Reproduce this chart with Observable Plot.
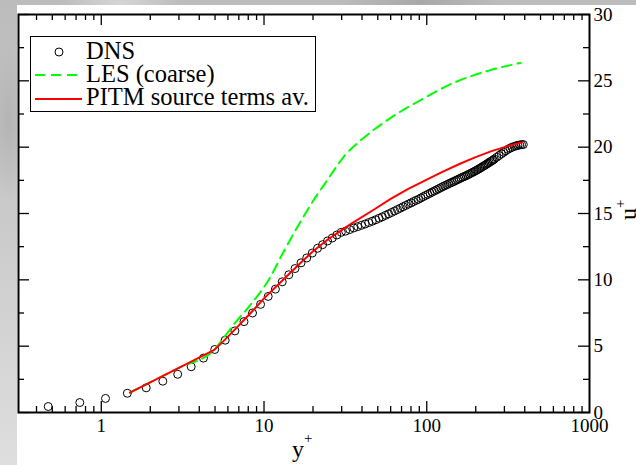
<!DOCTYPE html>
<html><head><meta charset="utf-8">
<script src="https://cdn.jsdelivr.net/npm/d3@7"></script>
<script src="https://cdn.jsdelivr.net/npm/@observablehq/plot@0.6"></script>
<style>
html,body{margin:0;padding:0;}
body{width:636px;height:465px;overflow:hidden;position:relative;
 background:
  radial-gradient(ellipse 60px 20px at 120px 3px, #d6d6d6, rgba(214,214,214,0)),
  radial-gradient(ellipse 80px 20px at 420px 2px, #a8a8a8, rgba(168,168,168,0)),
  radial-gradient(ellipse 20px 80px at 8px 120px, #b4b4b4, rgba(180,180,180,0)),
  linear-gradient(to bottom, #bcbcbc, #c8c8c8 40%, #dedede);}
#panel{position:absolute;left:17px;top:5px;width:619px;height:460px;background:#fff;}
#chart{position:absolute;left:0;top:0;}
#chart svg text, #chart svg tspan{font-family:"Liberation Serif","Tinos","Times New Roman","Nimbus Roman","DejaVu Serif" !important;}
</style></head><body><div id="panel"></div><div id="chart"></div>
<script>
// ---- data ----
const seriesNames = ["DNS", "LES (coarse)", "PITM source terms av."];
const xLabel = "y", yLabel = "u", labelSup = "+";

const dnsX = [0.472,0.738,1.062,1.446,1.888,2.389,2.949,3.568,4.245,4.98,5.773,6.623,7.532,8.499,9.524,10.61,11.75,12.94,14.2,15.51,16.88,18.3,19.79,21.32,22.91,24.56,26.27,28.03,29.84,
 31.71,33.63,35.61,37.64,39.72,41.86,44.04,46.29,48.58,50.93,53.32,55.77,58.27,60.82,63.42,66.06,68.76,71.5,74.3,77.14,80.03,82.97,85.95,88.98,92.06,95.18,98.34,101.55,104.8,108.1,111.43,114.81,118.24,121.7,125.2,128.75,132.33,135.96,139.62,143.32,147.06,150.83,154.64,158.49,162.37,166.28,170.24,174.22,178.23,182.28,186.36,190.47,194.61,198.78,202.98,207.21,211.46,215.74,220.05,224.38,228.75,233.12,237.53,241.99,246.44,250.92,255.42,259.94,
 269.04,278.21,287.45,296.75,306.11,315.52,324.98,334.48,344.02,353.58,363.16,372.77,382.38,392];
const dnsY = [0.45,0.75,1.06,1.45,1.86,2.36,2.88,3.45,4.1,4.75,5.45,6.15,6.85,7.5,8.15,8.75,9.3,9.85,10.38,10.85,11.28,11.65,12.02,12.38,12.65,12.93,13.15,13.38,13.58,
 13.67,13.79,13.91,14.01,14.11,14.21,14.32,14.42,14.53,14.64,14.75,14.86,14.97,15.08,15.19,15.3,15.4,15.51,15.61,15.71,15.8,15.9,15.99,16.07,16.17,16.27,16.36,16.44,16.53,16.62,16.7,16.78,16.86,16.94,17.02,17.09,17.16,17.23,17.3,17.36,17.42,17.49,17.55,17.62,17.68,17.74,17.79,17.85,17.91,17.97,18.03,18.09,18.15,18.21,18.27,18.33,18.4,18.46,18.53,18.59,18.65,18.72,18.78,18.85,18.91,18.97,19.03,19.1,
 19.24,19.37,19.5,19.61,19.73,19.84,19.92,19.99,20.05,20.1,20.14,20.17,20.19,20.2];

const lesX = [1.5,3,4.95,5.43,6.56,8.33,10.6,13.3,16.9,20.4,23.5,27.2,31.3,38,48,60.7,86.6,149,240,377];
const lesY = [1.5,3.37,4.72,5.35,6.67,8.17,9.93,12.2,14.46,16.1,17.2,18.35,19.36,20.36,21.37,22.25,23.38,24.89,25.77,26.35];

const pitmX = [1.5,3,4.95,5.5,6.5,7.5,8.5,10,12,14,17,20,25,30,35,48,60,77,100,123,160,198,250,318,385];
const pitmY = [1.5,3.37,4.72,5.25,6.15,6.95,7.65,8.6,9.55,10.35,11.35,12.15,13.1,13.75,14.3,15.34,16.1,16.85,17.55,18.1,18.75,19.23,19.7,20.1,20.36];

const xMajor = [1, 10, 100, 1000];
const xMinor = [0.4,0.5,0.6,0.7,0.8,0.9,2,3,4,5,6,7,8,9,20,30,40,50,60,70,80,90,200,300,400,500,600,700,800,900];
const yMajor = [0, 5, 10, 15, 20, 25, 30];
const yMinor = [2.5, 7.5, 12.5, 17.5, 22.5, 27.5];

// ---- build ----
const zip = (xs, ys) => xs.slice(0, Math.min(xs.length, ys.length)).map((x, i) => ({x, y: ys[i]}));
const dns = zip(dnsX, dnsY), les = zip(lesX, lesY), pitm = zip(pitmX, pitmY);

const W = 636, H = 465, mL = 18, mT = 14, mR = 47, mB = 53;
const fw = W - mL - mR, fh = H - mT - mB;
const bigT = 11, smallT = 6;
const tickStyle = {stroke: "#000", strokeWidth: 1.3};
const font = "Liberation Serif, Tinos, Times New Roman, DejaVu Serif";

const plot = Plot.plot({
  width: W, height: H,
  marginLeft: mL, marginRight: mR, marginTop: mT, marginBottom: mB,
  style: {background: "transparent", fontFamily: font, color: "#000", overflow: "visible"},
  x: {type: "log", domain: [0.31, 1000]},
  y: {domain: [0, 30]},
  marks: [
    Plot.dot(dns, {x: "x", y: "y", r: 4, stroke: "#000", strokeWidth: 1, fill: "none"}),
    Plot.line(les, {x: "x", y: "y", stroke: "#00ff00", strokeWidth: 2, strokeDasharray: "10,6", curve: "monotone-x"}),
    Plot.line(pitm, {x: "x", y: "y", stroke: "#ff0000", strokeWidth: 2, curve: "linear"}),
    // inward ticks: bottom & top
    Plot.ruleX(xMajor.slice(0, 3), {x: d => d, insetTop: fh - bigT, ...tickStyle}),
    Plot.ruleX(xMinor, {x: d => d, insetTop: fh - smallT, ...tickStyle}),
    Plot.ruleX(xMajor.slice(0, 3), {x: d => d, insetBottom: fh - bigT, ...tickStyle}),
    Plot.ruleX(xMinor, {x: d => d, insetBottom: fh - smallT, ...tickStyle}),
    // inward ticks: left & right
    Plot.ruleY(yMajor, {y: d => d, insetRight: fw - bigT, ...tickStyle}),
    Plot.ruleY(yMinor, {y: d => d, insetRight: fw - smallT, ...tickStyle}),
    Plot.ruleY(yMajor, {y: d => d, insetLeft: fw - bigT, ...tickStyle}),
    Plot.ruleY(yMinor, {y: d => d, insetLeft: fw - smallT, ...tickStyle}),
    Plot.axisX({ticks: xMajor, tickSize: 0, tickPadding: 6, tickFormat: d => String(d), fontSize: 19, label: null}),
    Plot.axisY({anchor: "right", ticks: yMajor, tickSize: 0, tickPadding: 4, tickFormat: d => String(d), fontSize: 19, label: null}),
    Plot.frame({stroke: "#000", strokeWidth: 2})
  ]
});
document.getElementById("chart").appendChild(plot);

const svg = d3.select(plot);
// axis titles with superscript
const xt = svg.append("text").attr("x", 292).attr("y", 457).attr("text-anchor", "start")
  .attr("font-family", font).attr("font-size", 24).attr("fill", "#000");
xt.append("tspan").text(xLabel);
xt.append("tspan").attr("font-size", 15).attr("dy", -14).text(labelSup);
const yt = svg.append("text").attr("transform", "translate(636,220) rotate(-90)").attr("text-anchor", "start")
  .attr("font-family", font).attr("font-size", 24).attr("fill", "#000");
yt.append("tspan").text(yLabel);
yt.append("tspan").attr("font-size", 15).attr("dy", -11).text(labelSup);

// legend
const lg = svg.append("g").attr("font-family", font).attr("font-size", 24.5).attr("fill", "#000").attr("text-anchor", "start");
lg.append("rect").attr("x", 30.5).attr("y", 36.5).attr("width", 285).attr("height", 75).attr("fill", "#fff").attr("stroke", "#000").attr("stroke-width", 1);
lg.append("circle").attr("cx", 59).attr("cy", 52).attr("r", 4).attr("fill", "none").attr("stroke", "#000").attr("stroke-width", 1);
lg.append("line").attr("x1", 35).attr("x2", 82).attr("y1", 75).attr("y2", 75).attr("stroke", "#00ff00").attr("stroke-width", 2).attr("stroke-dasharray", "10,6");
lg.append("line").attr("x1", 35).attr("x2", 82).attr("y1", 99).attr("y2", 99).attr("stroke", "#ff0000").attr("stroke-width", 2);
[59, 82, 105].forEach((yy, i) => lg.append("text").attr("x", 86).attr("y", yy).attr("text-anchor", "start").text(seriesNames[i]));
</script>
</body></html>
